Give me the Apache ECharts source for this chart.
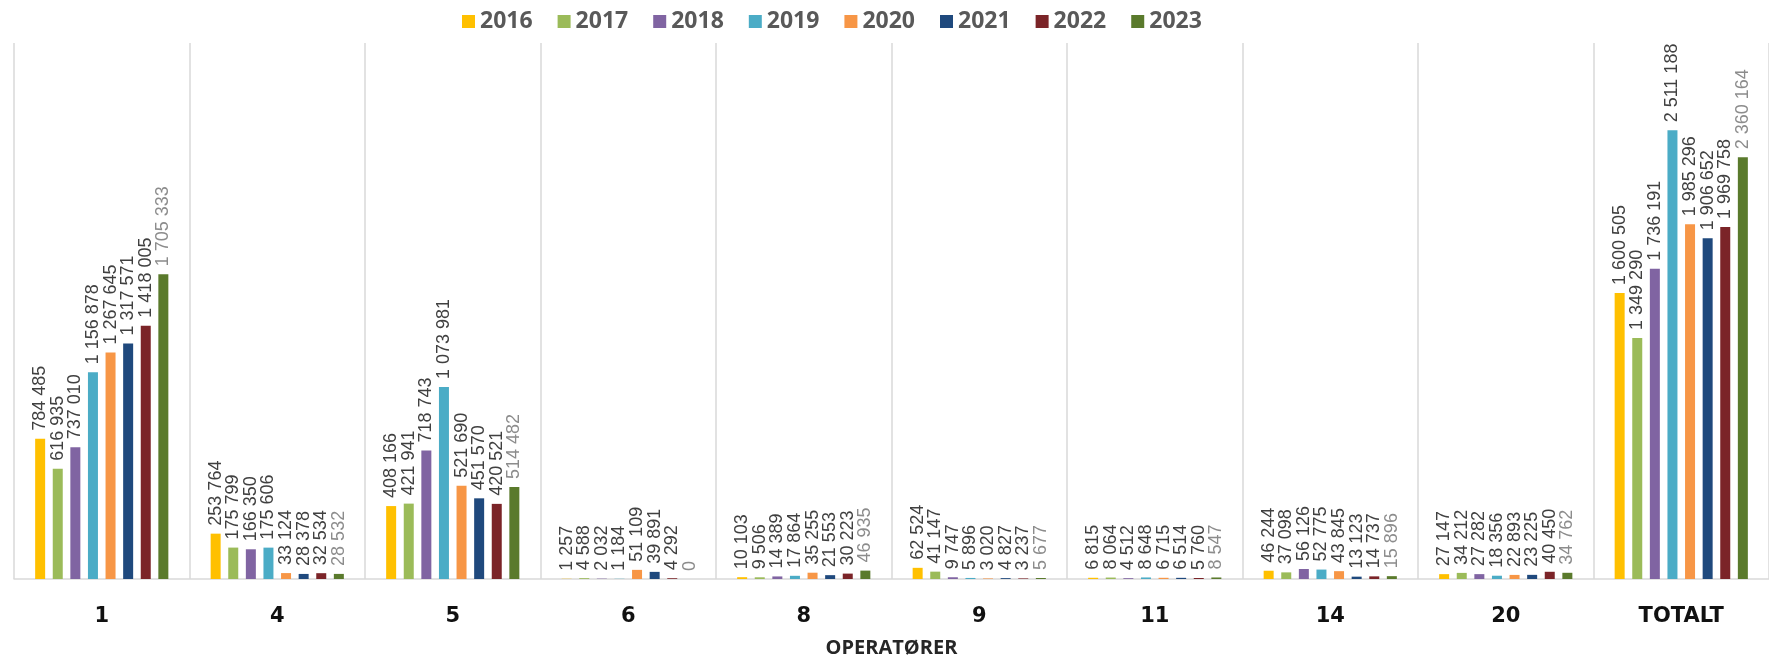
<!DOCTYPE html>
<html>
<head>
<meta charset="utf-8">
<script src="https://cdn.jsdelivr.net/npm/echarts@6/dist/echarts.min.js"></script>
<style>
  html, body { margin: 0; padding: 0; background: #fff; }
  #chart { width: 1769px; height: 659px; }
</style>
</head>
<body>
<div id="chart"></div>
<script>
const categories = ['1', '4', '5', '6', '8', '9', '11', '14', '20', 'TOTALT'];
const years = ['2016', '2017', '2018', '2019', '2020', '2021', '2022', '2023'];

const v2016 = [784485, 253764, 408166, 1257, 10103, 62524, 6815, 46244, 27147, 1600505];
const v2017 = [616935, 175799, 421941, 4588, 9506, 41147, 8064, 37098, 34212, 1349290];
const v2018 = [737010, 166350, 718743, 2032, 14389, 9747, 4512, 56126, 27282, 1736191];
const v2019 = [1156878, 175606, 1073981, 1184, 17864, 5896, 8648, 52775, 18356, 2511188];
const v2020 = [1267645, 33124, 521690, 51109, 35255, 3020, 6715, 43845, 22893, 1985296];
const v2021 = [1317571, 28378, 451570, 39891, 21553, 4827, 6514, 13123, 23225, 1906652];
const v2022 = [1418005, 32534, 420521, 4292, 30223, 3237, 5760, 14737, 40450, 1969758];
const v2023 = [1705333, 28532, 514482, 0, 46935, 5677, 8547, 15896, 34762, 2360164];

const values = [v2016, v2017, v2018, v2019, v2020, v2021, v2022, v2023];
const colors = ['#ffc000', '#9bbb59', '#8064a2', '#4bacc6', '#f79646', '#1f497d', '#7b2428', '#5a7a2c'];

const fmt = v => String(v).replace(/\B(?=(\d{3})+(?!\d))/g, ' ');
const narrow = '"Liberation Sans Narrow", "Liberation Sans", sans-serif';

const chart = echarts.init(document.getElementById('chart'));

const series = years.map((y, i) => ({
  name: y,
  type: 'bar',
  data: values[i],
  barWidth: 10,
  barGap: '76%',
  itemStyle: { color: colors[i] },
  label: {
    show: true,
    position: 'top',
    rotate: 90,
    align: 'left',
    verticalAlign: 'middle',
    distance: 8,
    fontFamily: narrow,
    fontSize: 18,
    color: i === 7 ? '#8c8c8c' : '#404040',
    formatter: p => fmt(p.value)
  }
}));

chart.setOption({
  animation: false,
  legend: {
    top: 5,
    left: 457,
    itemWidth: 13,
    itemHeight: 13,
    itemGap: 25,
    icon: 'rect',
    textStyle: { fontFamily: '"Open Sans", sans-serif', fontSize: 23, fontWeight: 'bold', color: '#595959' },
    data: years
  },
  grid: { left: 14, right: 0, top: 43, bottom: 80, outerBoundsMode: 'none' },
  xAxis: {
    type: 'category',
    data: categories,
    name: 'OPERATØRER',
    nameLocation: 'middle',
    nameGap: 59,
    nameTextStyle: { fontFamily: '"Open Sans", sans-serif', fontSize: 20, fontWeight: 'bold', color: '#262626' },
    axisLine: { lineStyle: { color: '#d9d9d9', width: 1.5 } },
    axisTick: { show: false },
    axisLabel: { margin: 27, fontFamily: '"DejaVu Sans", sans-serif', fontWeight: 'bold', fontSize: 21, color: '#111' },
    splitLine: { show: true, lineStyle: { color: '#d9d9d9', width: 1.5 } }
  },
  yAxis: {
    type: 'value',
    min: 0,
    max: 3000000,
    show: false,
    splitLine: { show: false }
  },
  series: series
});
</script>
</body>
</html>
